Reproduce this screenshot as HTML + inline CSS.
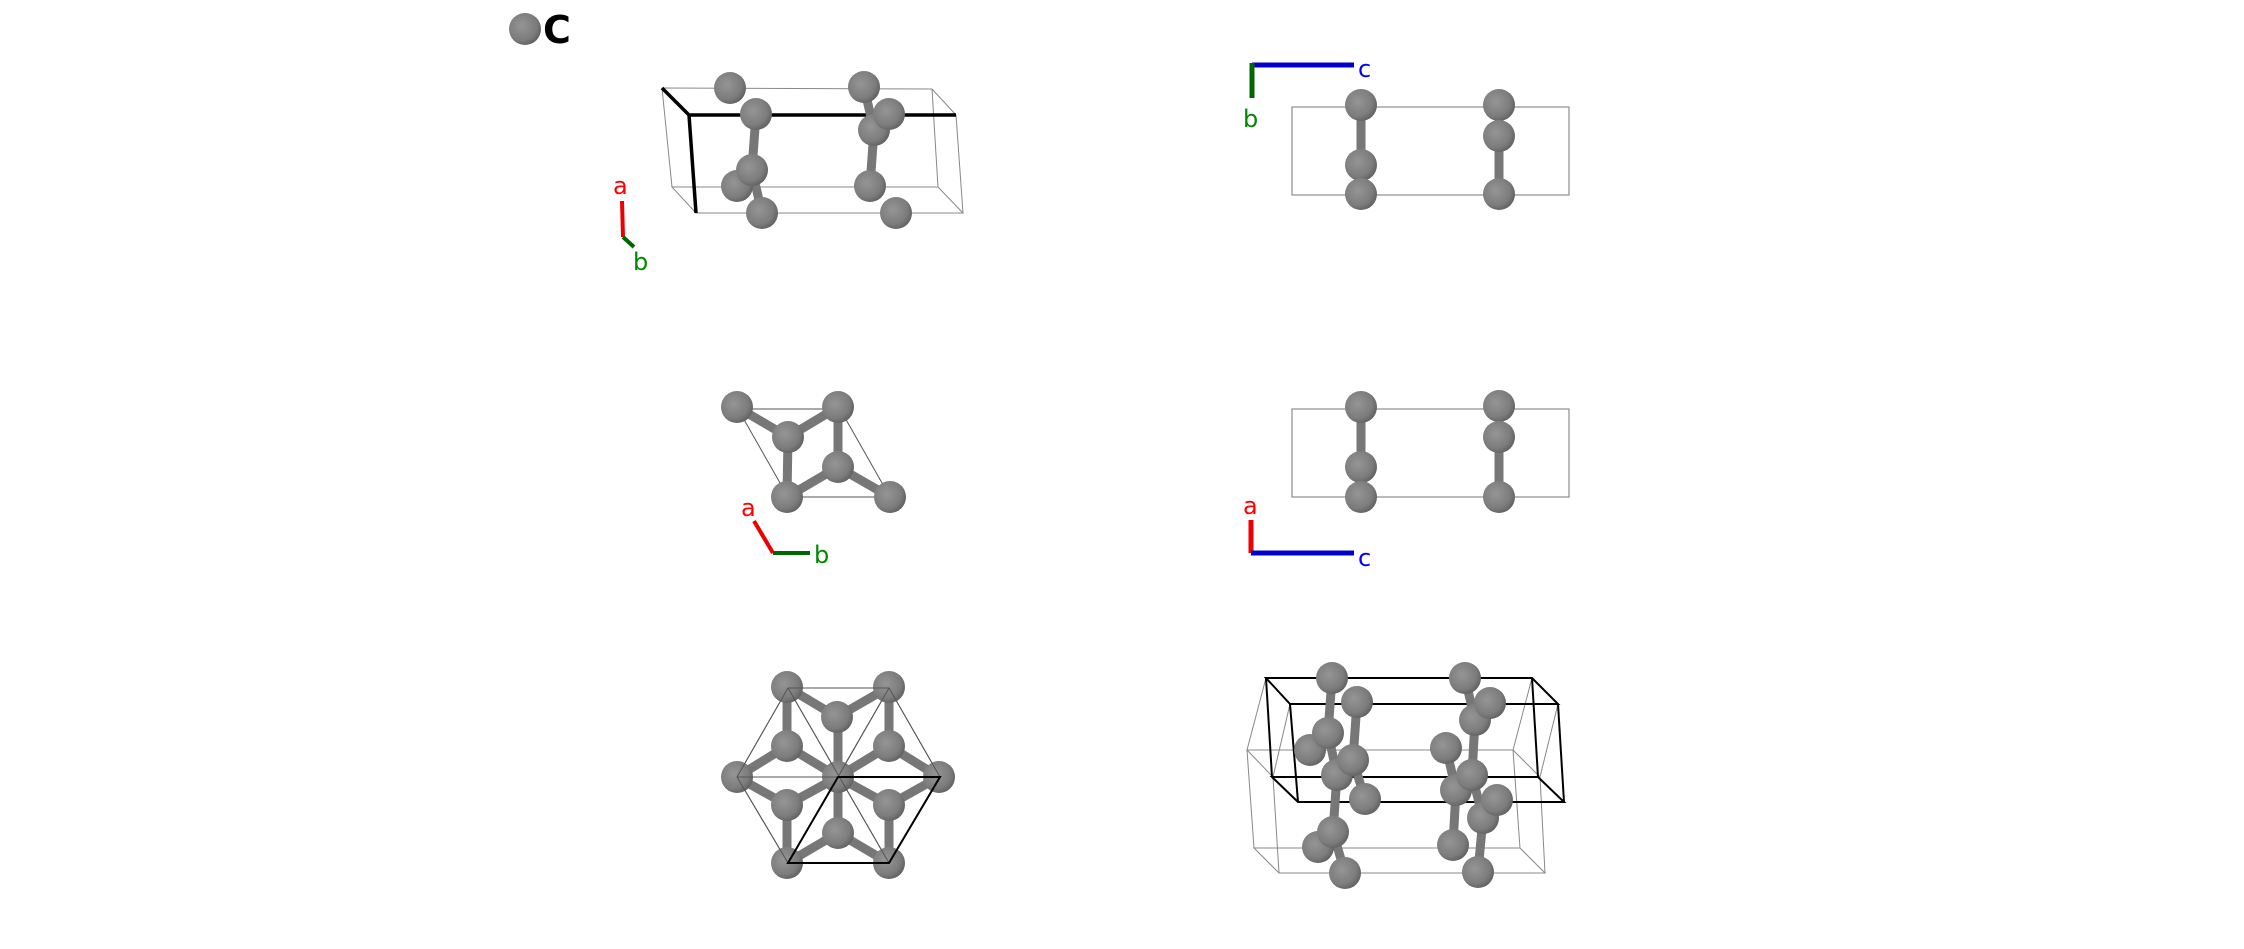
<!DOCTYPE html>
<html><head><meta charset="utf-8"><style>html,body{margin:0;padding:0;background:#fff;}svg{display:block}</style></head>
<body>
<svg width="2244" height="949" viewBox="0 0 2244 949" xmlns="http://www.w3.org/2000/svg" font-family="DejaVu Sans, Liberation Sans, sans-serif">
<defs>
<radialGradient id="g" cx="0.4" cy="0.4" r="0.65">
<stop offset="0" stop-color="#959595"/><stop offset="0.7" stop-color="#7c7c7c"/><stop offset="1" stop-color="#5e5e5e"/>
</radialGradient>
<circle id="a" r="16" fill="url(#g)"/>
</defs>
<!-- legend -->
<use href="#a" x="525" y="29"/>
<text x="543" y="43" font-size="38" font-weight="bold" fill="#000" font-family="DejaVu Sans, sans-serif">C</text>

<!-- panel 1 -->
<g stroke="#888" stroke-width="1" fill="none">
<polyline points="662,88 932,89 956,115"/>
<polygon points="672,187 938,187 963,213 696,213"/>
<line x1="662" y1="88" x2="672" y2="187"/><line x1="932" y1="89" x2="938" y2="187"/><line x1="956" y1="115" x2="963" y2="213"/>
</g>
<g stroke="#000" stroke-width="3.5" fill="none"><polyline points="662,88 689,115 956,115"/><line x1="689" y1="115" x2="696" y2="213"/></g>
<g stroke="#777" stroke-width="9" stroke-linecap="round">
<line x1="756" y1="114" x2="752" y2="170"/><line x1="752" y1="170" x2="762" y2="213"/><line x1="737" y1="186" x2="752" y2="170"/>
<line x1="864" y1="87" x2="874" y2="130"/><line x1="874" y1="130" x2="870" y2="186"/><line x1="889" y1="114" x2="874" y2="130"/>
</g>
<use href="#a" x="730" y="88"/><use href="#a" x="864" y="87"/><use href="#a" x="874" y="130"/><use href="#a" x="756" y="114"/><use href="#a" x="889" y="114"/>
<use href="#a" x="737" y="186"/><use href="#a" x="752" y="170"/><use href="#a" x="762" y="213"/><use href="#a" x="870" y="186"/><use href="#a" x="896" y="213"/>
<line x1="622" y1="201" x2="623" y2="237" stroke="#e00" stroke-width="4"/>
<line x1="623" y1="237" x2="634" y2="247" stroke="#060" stroke-width="4"/>
<text x="613" y="194" font-size="24" fill="#f00">a</text>
<text x="633" y="270" font-size="24" fill="#080">b</text>

<!-- panel 2 -->
<rect x="1292" y="107" width="277" height="88" fill="none" stroke="#777" stroke-width="1"/>
<g stroke="#777" stroke-width="9"><line x1="1361" y1="105" x2="1361" y2="194"/><line x1="1499" y1="105" x2="1499" y2="194"/></g>
<use href="#a" x="1361" y="105"/><use href="#a" x="1361" y="165"/><use href="#a" x="1361" y="194"/>
<use href="#a" x="1499" y="105"/><use href="#a" x="1499" y="136"/><use href="#a" x="1499" y="194"/>
<line x1="1252" y1="65" x2="1354" y2="65" stroke="#00c" stroke-width="5"/>
<line x1="1252" y1="63" x2="1252" y2="98" stroke="#060" stroke-width="5"/>
<text x="1358" y="77" font-size="24" fill="#00f">c</text>
<text x="1243" y="127" font-size="24" fill="#080">b</text>

<!-- panel 3 -->
<polygon points="738,409 840,409 890,497 788,497" fill="none" stroke="#555" stroke-width="1"/>
<g stroke="#777" stroke-width="9">
<line x1="737" y1="407" x2="788" y2="437"/><line x1="788" y1="437" x2="838" y2="407"/><line x1="838" y1="407" x2="838" y2="467"/>
<line x1="788" y1="437" x2="787" y2="497"/><line x1="787" y1="497" x2="838" y2="467"/><line x1="838" y1="467" x2="890" y2="497"/>
</g>
<use href="#a" x="737" y="407"/><use href="#a" x="788" y="437"/><use href="#a" x="838" y="407"/><use href="#a" x="838" y="467"/><use href="#a" x="787" y="497"/><use href="#a" x="890" y="497"/>
<line x1="754" y1="521" x2="773" y2="553" stroke="#e00" stroke-width="4"/>
<line x1="773" y1="553" x2="810" y2="553" stroke="#060" stroke-width="4"/>
<text x="741" y="516" font-size="24" fill="#f00">a</text>
<text x="814" y="563" font-size="24" fill="#080">b</text>

<!-- panel 4 -->
<g stroke="#555" stroke-width="1" fill="none">
<line x1="788" y1="688" x2="889" y2="688"/>
<polyline points="788,688 737,777 788,863"/><polyline points="889,688 940,777 889,863"/>
<line x1="788" y1="688" x2="889" y2="863"/><line x1="889" y1="688" x2="788" y2="863"/>
<line x1="737" y1="777" x2="940" y2="777"/>
</g>
<g stroke="#777" stroke-width="9">
<line x1="787" y1="687" x2="837" y2="717"/><line x1="889" y1="687" x2="837" y2="717"/><line x1="787" y1="687" x2="787" y2="746"/><line x1="889" y1="687" x2="889" y2="746"/>
<line x1="838" y1="717" x2="838" y2="833"/>
<line x1="787" y1="746" x2="737" y2="777"/><line x1="787" y1="746" x2="838" y2="777"/><line x1="889" y1="746" x2="838" y2="777"/><line x1="889" y1="746" x2="939" y2="777"/>
<line x1="737" y1="777" x2="787" y2="805"/><line x1="838" y1="777" x2="787" y2="805"/><line x1="838" y1="777" x2="889" y2="805"/><line x1="939" y1="777" x2="889" y2="805"/>
<line x1="787" y1="805" x2="787" y2="863"/><line x1="889" y1="805" x2="889" y2="863"/><line x1="787" y1="863" x2="838" y2="833"/><line x1="889" y1="863" x2="838" y2="833"/>
</g>
<use href="#a" x="787" y="687"/><use href="#a" x="889" y="687"/><use href="#a" x="837" y="717"/><use href="#a" x="787" y="746"/><use href="#a" x="889" y="746"/>
<use href="#a" x="737" y="777"/><use href="#a" x="838" y="777"/><use href="#a" x="939" y="777"/><use href="#a" x="787" y="805"/><use href="#a" x="889" y="805"/>
<use href="#a" x="838" y="833"/><use href="#a" x="787" y="863"/><use href="#a" x="889" y="863"/>
<g stroke="#555" stroke-width="1" fill="none">
<line x1="788" y1="688" x2="889" y2="688"/>
<polyline points="788,688 737,777 788,863"/><polyline points="889,688 940,777"/>
<line x1="788" y1="688" x2="889" y2="863"/><line x1="889" y1="688" x2="838" y2="777"/>
<line x1="737" y1="777" x2="838" y2="777"/>
</g>
<polygon points="838,777 940,777 889,863 788,863" fill="none" stroke="#000" stroke-width="2"/>

<!-- panel 2b -->
<rect x="1292" y="409" width="277" height="88" fill="none" stroke="#777" stroke-width="1"/>
<g stroke="#777" stroke-width="9"><line x1="1361" y1="407" x2="1361" y2="497"/><line x1="1499" y1="406" x2="1499" y2="497"/></g>
<use href="#a" x="1361" y="407"/><use href="#a" x="1361" y="467"/><use href="#a" x="1361" y="497"/>
<use href="#a" x="1499" y="406"/><use href="#a" x="1499" y="437"/><use href="#a" x="1499" y="497"/>
<line x1="1251" y1="520" x2="1251" y2="553" stroke="#e00" stroke-width="5"/>
<line x1="1251" y1="553" x2="1354" y2="553" stroke="#00c" stroke-width="5"/>
<text x="1243" y="514" font-size="24" fill="#f00">a</text>
<text x="1358" y="566" font-size="24" fill="#00f">c</text>

<!-- panel 5 -->
<g stroke="#888" stroke-width="1" fill="none">
<polygon points="1254,848 1520,848 1545,873 1279,873"/>
<polyline points="1266,678 1247,750 1513,750 1532,678"/>
<line x1="1247" y1="750" x2="1273" y2="777"/><line x1="1513" y1="750" x2="1540" y2="777"/>
<polyline points="1290,704 1273,777"/><polyline points="1558,704 1540,777"/>
<line x1="1247" y1="750" x2="1254" y2="848"/><line x1="1513" y1="750" x2="1520" y2="848"/>
<line x1="1273" y1="777" x2="1279" y2="873"/><line x1="1540" y1="777" x2="1545" y2="873"/>
</g>
<g stroke="#000" stroke-width="2" fill="none">
<polygon points="1266,678 1532,678 1558,704 1290,704"/>
<polygon points="1272,777 1538,777 1564,802 1298,802"/>
<line x1="1266" y1="678" x2="1272" y2="777"/><line x1="1290" y1="704" x2="1298" y2="802"/><line x1="1532" y1="678" x2="1538" y2="777"/><line x1="1558" y1="704" x2="1564" y2="802"/>
</g>
<g stroke="#777" stroke-width="9">
<polyline fill="none" points="1332,678 1328,733 1337,775 1333,832 1345,873"/><line x1="1310" y1="750" x2="1328" y2="733"/><line x1="1318" y1="847" x2="1333" y2="832"/>
<polyline fill="none" points="1357,702 1353,760 1365,799"/>
<polyline fill="none" points="1465,678 1475,720 1472,775 1483,818 1478,872"/><line x1="1490" y1="703" x2="1475" y2="720"/>
<polyline fill="none" points="1446,748 1456,790 1453,845"/><line x1="1497" y1="800" x2="1483" y2="818"/>
</g>
<use href="#a" x="1332" y="678"/><use href="#a" x="1310" y="750"/><use href="#a" x="1328" y="733"/><use href="#a" x="1337" y="775"/><use href="#a" x="1357" y="702"/><use href="#a" x="1353" y="760"/><use href="#a" x="1365" y="799"/>
<use href="#a" x="1318" y="847"/><use href="#a" x="1333" y="832"/><use href="#a" x="1345" y="873"/>
<use href="#a" x="1465" y="678"/><use href="#a" x="1475" y="720"/><use href="#a" x="1490" y="703"/><use href="#a" x="1446" y="748"/><use href="#a" x="1456" y="790"/><use href="#a" x="1472" y="775"/>
<use href="#a" x="1483" y="818"/><use href="#a" x="1497" y="800"/><use href="#a" x="1453" y="845"/><use href="#a" x="1478" y="872"/>
</svg>
</body></html>
